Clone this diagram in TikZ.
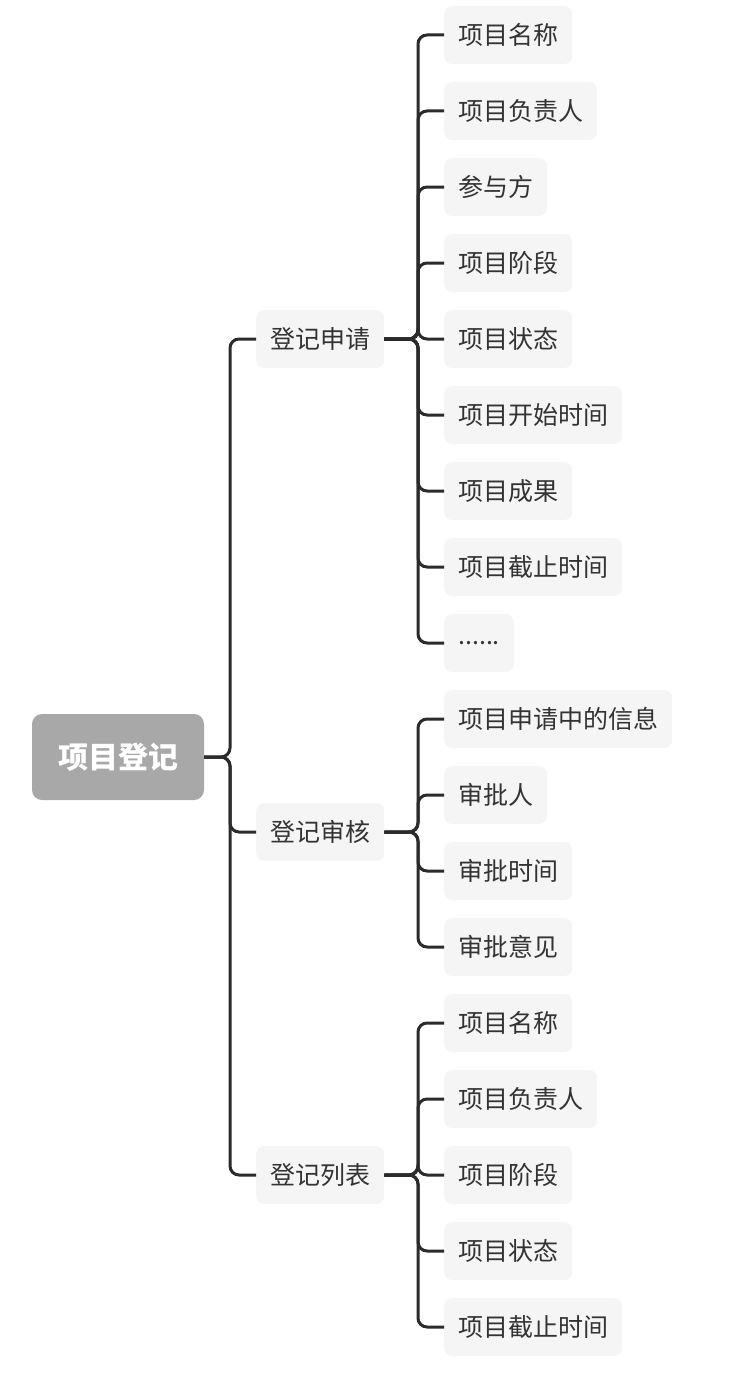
\documentclass[tikz,border=0pt]{standalone}
\usepackage{fontspec}
\setmainfont{Noto Sans CJK SC}
\definecolor{leaf}{HTML}{F5F5F5}
\definecolor{ink}{HTML}{333333}
\definecolor{wire}{HTML}{2B2B2B}
\definecolor{rootc}{HTML}{A8A8A8}
\newcommand\mysixdots{......}
\begin{document}
\begin{tikzpicture}[x=1pt,y=-1pt,
  leafbox/.style={fill=leaf,rounded corners=8pt,inner xsep=14pt,minimum height=58pt,anchor=west,text=ink,font=\fontsize{25}{30}\selectfont},
  wirel/.style={draw=wire,line width=3pt,rounded corners=9pt}]
\useasboundingbox (0,0) rectangle (748,1386);
\node[fill=rootc,rounded corners=10pt,minimum width=172pt,minimum height=86pt,text=white,font=\fontsize{30}{36}\selectfont\bfseries] (root) at (118,757) {项目登记};
\coordinate (s0) at (230,757);
\node[leafbox] (a) at (256,339) {登记申请};
\node[leafbox] (b) at (256,832) {登记审核};
\node[leafbox] (c) at (256,1175) {登记列表};
\foreach \n in {a,b,c} \draw[wirel] (root.east) -- (s0) |- (\n.west);
% group a
\coordinate (sa) at (418,339);
\foreach \t/\y [count=\i] in {项目名称/35,项目负责人/111,参与方/187,项目阶段/263,项目状态/339,项目开始时间/415,项目成果/491,项目截止时间/567,\mysixdots/643}{
  \node[leafbox] (a\i) at (444,\y) {\t};
  \draw[wirel] (a.east) -- (sa) |- (a\i.west);}
\coordinate (sb) at (418,832);
\foreach \t/\y [count=\i] in {项目申请中的信息/719,审批人/795,审批时间/871,审批意见/947}{
  \node[leafbox] (b\i) at (444,\y) {\t};
  \draw[wirel] (b.east) -- (sb) |- (b\i.west);}
\coordinate (sc) at (418,1175);
\foreach \t/\y [count=\i] in {项目名称/1023,项目负责人/1099,项目阶段/1175,项目状态/1251,项目截止时间/1327}{
  \node[leafbox] (c\i) at (444,\y) {\t};
  \draw[wirel] (c.east) -- (sc) |- (c\i.west);}
\end{tikzpicture}
\end{document}
